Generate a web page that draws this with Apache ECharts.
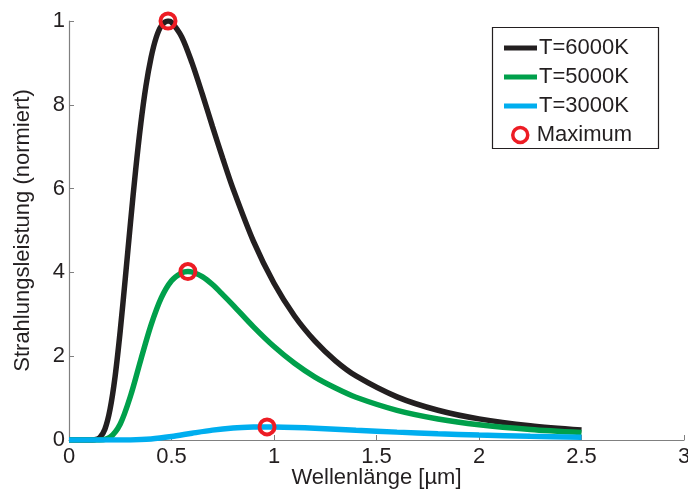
<!DOCTYPE html>
<html>
<head>
<meta charset="utf-8">
<script src="https://cdn.jsdelivr.net/npm/echarts@6/dist/echarts.min.js"></script>
<style>
  html, body { margin: 0; padding: 0; background: #fff; }
  #chart { width: 688px; height: 491px; }
</style>
</head>
<body>
<div id="chart"></div>
<script>
// Wellenlänge in µm
var lam6000 = [0, 0.1, 0.125, 0.15, 0.175, 0.2, 0.225, 0.25, 0.275, 0.3, 0.325, 0.35, 0.375, 0.4, 0.425, 0.45, 0.483, 0.5, 0.55, 0.6, 0.65, 0.7, 0.75, 0.8, 0.9, 1.0, 1.1, 1.2, 1.3, 1.4, 1.6, 1.8, 2.0, 2.25, 2.5];
var val6000 = [0, 0, 0.0006, 0.0056, 0.0256, 0.0727, 0.152, 0.261, 0.388, 0.519, 0.644, 0.754, 0.844, 0.912, 0.960, 0.988, 1.0, 0.997, 0.962, 0.900, 0.826, 0.748, 0.672, 0.600, 0.474, 0.374, 0.296, 0.236, 0.189, 0.153, 0.103, 0.071, 0.0504, 0.0341, 0.0238];

var lam5000 = [0, 0.1, 0.15, 0.2, 0.25, 0.3, 0.35, 0.4, 0.45, 0.5, 0.55, 0.58, 0.6, 0.65, 0.7, 0.75, 0.8, 0.9, 1.0, 1.1, 1.2, 1.3, 1.4, 1.6, 1.8, 2.0, 2.25, 2.5];
var val5000 = [0, 0, 0.0002, 0.0066, 0.0384, 0.105, 0.191, 0.274, 0.339, 0.380, 0.399, 0.402, 0.401, 0.390, 0.371, 0.347, 0.322, 0.270, 0.223, 0.183, 0.150, 0.124, 0.102, 0.0708, 0.0502, 0.0363, 0.0250, 0.0177];

var lam3000 = [0, 0.2, 0.3, 0.4, 0.5, 0.6, 0.7, 0.8, 0.9, 0.966, 1.0, 1.1, 1.2, 1.4, 1.6, 1.8, 2.0, 2.25, 2.5];
var val3000 = [0, 0, 0.0002, 0.0023, 0.0082, 0.0162, 0.0236, 0.0285, 0.0309, 0.03125, 0.0312, 0.0301, 0.0281, 0.0234, 0.0188, 0.0148, 0.0117, 0.0087, 0.0066];

// Maxima
var maxLam = [0.483, 0.58, 0.966];
var maxVal = [1.0, 0.402, 0.03125];

// Beschriftung wie im Original (0, 2, 4, 6, 8, 1)
var yTickLabels = { '0': '0', '0.2': '2', '0.4': '4', '0.6': '6', '0.8': '8', '1': '1' };

function pairs(xs, ys) {
    return xs.map(function(x, i) { return [x, ys[i]]; });
}

var txt = '#231f20';
var fontFam = 'Liberation Sans, Arial, sans-serif';
var fs = 22;

var chart = echarts.init(document.getElementById('chart'));
var option = {
    backgroundColor: '#fff',
    animation: false,
    grid: { left: 69, right: 4, top: 21, bottom: 51, outerBoundsMode: 'none', containLabel: false },
    xAxis: {
        type: 'value',
        min: 0, max: 3, interval: 0.5,
        name: 'Wellenlänge [µm]',
        nameLocation: 'middle',
        nameGap: 27,
        nameMoveOverlap: false,
        nameTextStyle: { color: txt, fontSize: fs, fontFamily: fontFam },
        axisLine: { lineStyle: { color: '#808080', width: 1.2 } },
        axisTick: { inside: true, length: 5, lineStyle: { color: '#808080' } },
        axisLabel: { color: txt, fontSize: fs, fontFamily: fontFam, margin: 6,
            formatter: function(v) { return String(v); } },
        splitLine: { show: false }
    },
    yAxis: {
        type: 'value',
        min: 0, max: 1, interval: 0.2,
        name: 'Strahlungsleistung (normiert)',
        nameLocation: 'middle',
        nameGap: 35,
        nameMoveOverlap: false,
        nameTextStyle: { color: txt, fontSize: fs, fontFamily: fontFam },
        axisLine: { show: true, lineStyle: { color: '#808080', width: 1.2 } },
        axisTick: { show: true, inside: true, length: 5, lineStyle: { color: '#808080' } },
        axisLabel: { color: txt, fontSize: fs, fontFamily: fontFam, margin: 4,
            formatter: function(v) { return yTickLabels[String(+v.toFixed(1))] || ''; } },
        splitLine: { show: false }
    },
    legend: [{
        data: ['T=6000K', 'T=5000K', 'T=3000K'],
        orient: 'vertical',
        left: 499, top: 32,
        itemWidth: 33, itemHeight: 5, itemGap: 7,
        icon: 'rect',
        textStyle: { color: txt, fontSize: fs, fontFamily: fontFam, padding: [0, 0, 0, -3] }
    }, {
        data: [{ name: 'Maximum', itemStyle: { color: 'rgba(255,255,255,0)', borderColor: '#ed1c24', borderWidth: 3.5 } }],
        orient: 'vertical',
        left: 506, top: 119,
        itemWidth: 15, itemHeight: 15,
        icon: 'circle',
        textStyle: { color: txt, fontSize: fs, fontFamily: fontFam, padding: [0, 0, 0, 4] }
    }],
    graphic: [{
        type: 'rect',
        shape: { x: 492.5, y: 27.5, width: 166, height: 121 },
        style: { fill: 'none', stroke: '#231f20', lineWidth: 1.2 },
        z: 0
    }],
    series: [{
        name: 'T=6000K', type: 'line', smooth: 0.3, showSymbol: false,
        data: pairs(lam6000, val6000),
        color: '#231f20',
        lineStyle: { width: 5.5, color: '#231f20' }
    }, {
        name: 'T=5000K', type: 'line', smooth: 0.3, showSymbol: false,
        data: pairs(lam5000, val5000),
        color: '#00a04b',
        lineStyle: { width: 5.5, color: '#00a04b' }
    }, {
        name: 'T=3000K', type: 'line', smooth: 0.3, showSymbol: false,
        data: pairs(lam3000, val3000),
        color: '#00aeef',
        lineStyle: { width: 5.5, color: '#00aeef' }
    }, {
        name: 'Maximum', type: 'scatter', symbol: 'circle', symbolSize: 15,
        data: pairs(maxLam, maxVal),
        z: 5,
        itemStyle: { color: 'rgba(255,255,255,0)', borderColor: '#ed1c24', borderWidth: 4, opacity: 1 }
    }]
};
chart.setOption(option);
</script>
</body>
</html>
